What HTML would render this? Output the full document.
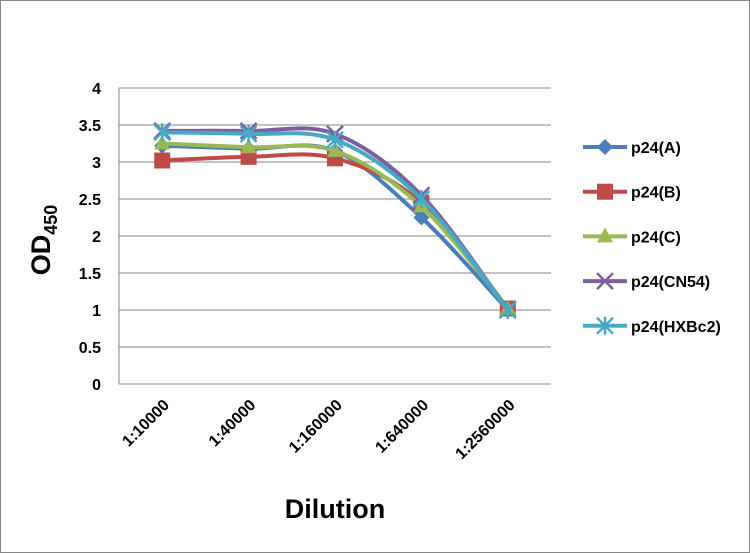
<!DOCTYPE html>
<html><head><meta charset="utf-8"><style>
body{margin:0;background:#fff}
svg{display:block;font-family:"Liberation Sans",sans-serif}
</style></head><body>
<svg id="s" width="750" height="553" viewBox="0 0 750 553" xmlns="http://www.w3.org/2000/svg">
<rect x="0.5" y="0.5" width="749" height="552" fill="#fff" stroke="#868686"/>
<g id="grid"></g>
<g id="series"></g>
<g id="legend"></g>
<text x="0" y="0" transform="translate(50,240) rotate(-90)" text-anchor="middle" font-size="27" font-weight="bold">OD<tspan font-size="18" dy="7">450</tspan></text>
<text x="335" y="518" text-anchor="middle" font-size="27" font-weight="bold">Dilution</text>
</svg>
<script>
const NS="http://www.w3.org/2000/svg";
function el(p,t,a,txt){const e=document.createElementNS(NS,t);for(const k in a)e.setAttribute(k,a[k]);if(txt!=null)e.textContent=txt;p.appendChild(e);return e;}
const L=119,R=551,T=88,B=384,ux=(R-L)/5,uy=(B-T)/4;
const g=document.getElementById('grid');
for(let i=0;i<=8;i++){const v=i*0.5,y=B-v*uy;
 if(i>0)el(g,'line',{x1:L,x2:R,y1:y,y2:y,stroke:'#868686','stroke-width':1});
 el(g,'text',{x:101,y:y+6,'text-anchor':'end','font-size':16,'font-weight':'bold'},String(v));}
el(g,'line',{x1:L,x2:L,y1:T,y2:B,stroke:'#868686'});
el(g,'line',{x1:L,x2:R,y1:B,y2:B,stroke:'#868686'});
const cats=["1:10000","1:40000","1:160000","1:640000","1:2560000"];
const xs=cats.map((c,i)=>L+ux*(i+0.5));
cats.forEach((c,i)=>{el(g,'text',{x:0,y:0,transform:`translate(${xs[i]+8},${B+22}) rotate(-45)`,'text-anchor':'end','font-size':16,'font-weight':'bold'},c);});
const S=[
 {n:"p24(A)",c:"#4a7ebb",m:"diamond",d:[3.22,3.18,3.15,2.25,1.0]},
 {n:"p24(B)",c:"#be4b48",m:"square",d:[3.02,3.07,3.05,2.45,1.02]},
 {n:"p24(C)",c:"#98b954",m:"tri",d:[3.25,3.2,3.15,2.4,1.02]},
 {n:"p24(CN54)",c:"#7d5fa0",m:"x",d:[3.42,3.42,3.38,2.55,1.0]},
 {n:"p24(HXBc2)",c:"#46aac5",m:"star",d:[3.4,3.38,3.3,2.5,1.0]}];
function marker(p,m,x,y,c){
 if(m=="diamond")el(p,'path',{d:`M${x} ${y-8}L${x+8} ${y}L${x} ${y+8}L${x-8} ${y}Z`,fill:c});
 else if(m=="square")el(p,'rect',{x:x-8,y:y-8,width:16,height:16,fill:c});
 else if(m=="tri")el(p,'path',{d:`M${x} ${y-9}L${x+8} ${y+6}L${x-8} ${y+6}Z`,fill:c});
 else if(m=="x"){el(p,'path',{d:`M${x-8} ${y-8}L${x+8} ${y+8}M${x-8} ${y+8}L${x+8} ${y-8}`,stroke:c,'stroke-width':2.5});}
 else {el(p,'path',{d:`M${x-8} ${y-8}L${x+8} ${y+8}M${x-8} ${y+8}L${x+8} ${y-8}M${x} ${y-9}L${x} ${y+9}`,stroke:c,'stroke-width':2.5});}
}
const sg=document.getElementById('series');
S.forEach(s=>{
 const P=s.d.map((v,i)=>[xs[i],B-v*uy]);
 let d=`M${P[0][0]} ${P[0][1]}`;
 for(let i=0;i<P.length-1;i++){const p0=P[Math.max(0,i-1)],p1=P[i],p2=P[i+1],p3=P[Math.min(P.length-1,i+2)];const t=6;
  d+=`C${p1[0]+(p2[0]-p0[0])/t} ${p1[1]+(p2[1]-p0[1])/t} ${p2[0]-(p3[0]-p1[0])/t} ${p2[1]-(p3[1]-p1[1])/t} ${p2[0]} ${p2[1]}`;}
 el(sg,'path',{d,fill:'none',stroke:s.c,'stroke-width':4,'stroke-linejoin':'round'});
 P.forEach(p=>marker(sg,s.m,p[0],p[1],s.c));
});
const lg=document.getElementById('legend');
S.forEach((s,i)=>{const y=147+i*44.7;
 el(lg,'line',{x1:583,x2:627,y1:y,y2:y,stroke:s.c,'stroke-width':4});
 marker(lg,s.m,605,y,s.c);
 el(lg,'text',{x:631,y:y+6,'font-size':16,'font-weight':'bold'},s.n);});
</script>
</body></html>
